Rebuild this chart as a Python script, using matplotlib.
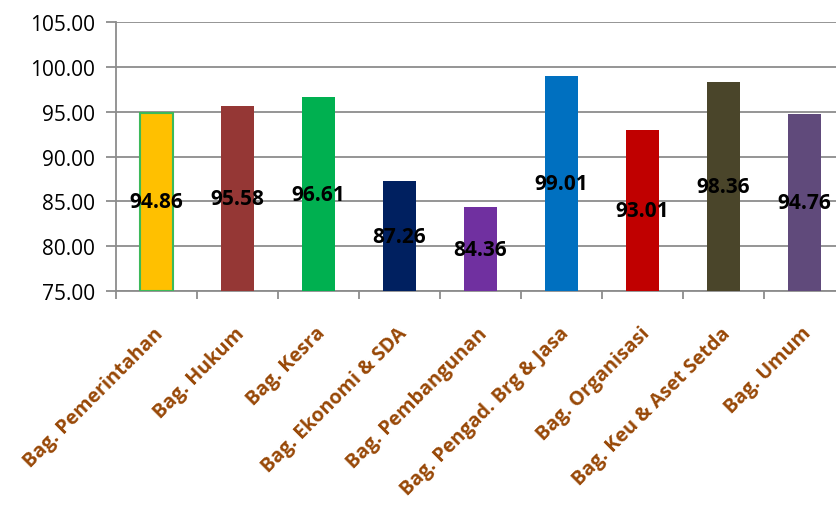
import numpy as np
import matplotlib
matplotlib.use("Agg")
import matplotlib.pyplot as plt
import matplotlib.transforms as mtransforms

# data
categories = ["Bag. Pemerintahan", "Bag. Hukum", "Bag. Kesra", "Bag. Ekonomi & SDA",
              "Bag. Pembangunan", "Bag. Pengad. Brg & Jasa", "Bag. Organisasi",
              "Bag. Keu & Aset Setda", "Bag. Umum"]
values = [94.86, 95.58, 96.61, 87.26, 84.36, 99.01, 93.01, 98.36, 94.76]
bar_colors = ["#FFC000", "#953735", "#00B050", "#002060", "#7030A0",
              "#0070C0", "#C00000", "#4A452A", "#604A7B"]
y_ticks = [75, 80, 85, 90, 95, 100, 105]

plt.rcParams['font.family'] = ['Open Sans', 'DejaVu Sans']

fig = plt.figure(figsize=(8.37, 5.06), dpi=100)
ax = fig.add_axes([0.1386, 0.4229, 0.871, 0.5316])

base = 75
x = np.arange(len(categories))
heights = [v - base for v in values]
bars = ax.bar(x, heights, bottom=base, width=0.41, color=bar_colors, zorder=3)
bars[0].set_edgecolor("#3CB95A")
bars[0].set_linewidth(1.5)

# value labels in the middle of each bar
for xi, v in zip(x, values):
    ax.text(xi, (base + v) / 2, "%.2f" % v, ha="center", va="center",
            fontsize=15, fontweight="bold", color="black", zorder=4)

ax.set_ylim(75, 105)
ax.set_xlim(-0.5, len(categories) - 0.5)
ax.set_yticks(y_ticks)
ax.set_yticklabels(["%.2f" % t for t in y_ticks], fontsize=15)
ax.yaxis.grid(True, color="#8C8C8C", linewidth=1.3, zorder=0)

ax.set_xticks(np.arange(len(categories) + 1) - 0.5)
ax.set_xticklabels([])
ax.set_xticks(x, minor=True)
ax.set_xticklabels(categories, minor=True, rotation=45, ha="right",
                   rotation_mode="anchor", fontsize=14.2, fontweight="bold",
                   color="#984807")
ax.tick_params(axis="x", which="minor", length=0, pad=23)
ax.tick_params(axis="x", which="major", length=6, width=1.3, color="#8C8C8C")
ax.tick_params(axis="y", length=7, width=1.3, color="#8C8C8C", pad=8)

# nudge the rotated category labels a little to the left
shift = mtransforms.ScaledTranslation(-3 / 100, 0, fig.dpi_scale_trans)
for lab in ax.get_xticklabels(minor=True):
    lab.set_transform(lab.get_transform() + shift)

for side in ["top", "right"]:
    ax.spines[side].set_visible(False)
for side in ["left", "bottom"]:
    ax.spines[side].set_color("#8C8C8C")
    ax.spines[side].set_linewidth(1.3)

fig.savefig("out.png", dpi=100)
